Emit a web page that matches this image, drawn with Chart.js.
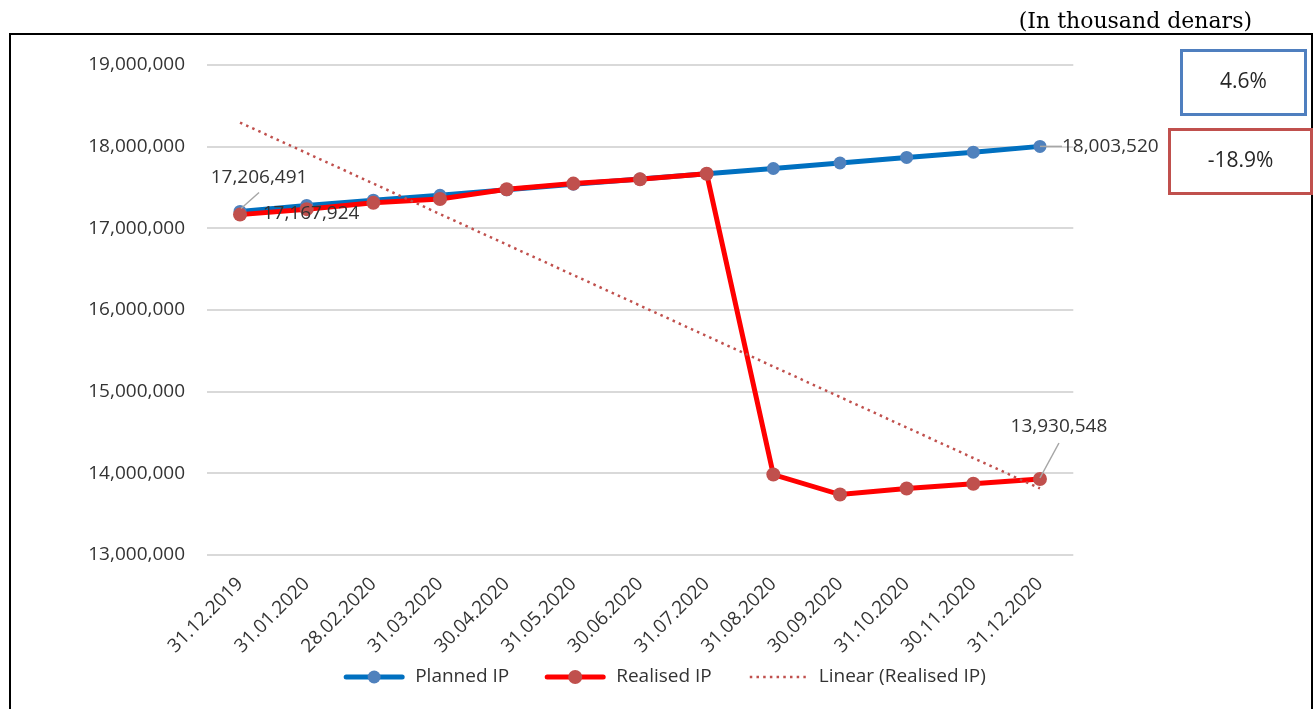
<!DOCTYPE html>
<html>
<head>
<meta charset="utf-8">
<script src="https://cdn.jsdelivr.net/npm/chart.js@4.4.1/dist/chart.umd.min.js"></script>
<style>
  html, body { margin: 0; padding: 0; background: #fff; }
  #wrap { position: relative; width: 1315px; height: 709px; overflow: hidden; }
  #frame { position: absolute; left: 9px; top: 33px; width: 1300px; height: 720px; border: 2px solid #000; }
  .box { position: absolute; box-sizing: border-box; border: 3px solid; display: flex; align-items: center;
         justify-content: center; font: 21px "Open Sans", sans-serif; color: #262626; padding-bottom: 6px; }
  canvas { position: absolute; left: 0; top: 0; }
</style>
</head>
<body>
<div id="wrap">
  <div id="frame"></div>
  <canvas id="c" width="1315" height="709"></canvas>
  <div class="box" id="boxPlanned" style="left:1180px;top:49px;width:127px;height:67px;border-color:#4f7fbf;"></div>
  <div class="box" id="boxRealised" style="left:1168px;top:128px;width:145px;height:67px;border-color:#c0504d;"></div>
</div>
<script>
// Month-end dates
const categories = ['31.12.2019', '31.01.2020', '28.02.2020', '31.03.2020', '30.04.2020', '31.05.2020',
  '30.06.2020', '31.07.2020', '31.08.2020', '30.09.2020', '31.10.2020', '30.11.2020', '31.12.2020'];

// Planned IP (thousand denars)
const plannedIP = [17206491, 17280000, 17345000, 17405000, 17472000, 17540000, 17603000,
  17668000, 17733000, 17800000, 17868000, 17932000, 18003520];

// Realised IP (thousand denars)
const realisedIP = [17167924, 17235000, 17312000, 17360000, 17478000, 17548000, 17600000,
  17668000, 13985000, 13740000, 13815000, 13872000, 13930548];

// Value axis ticks
const yTicks = [13000000, 14000000, 15000000, 16000000, 17000000, 18000000, 19000000];

// Year-on-year change shown in the side boxes
const changeLabels = ['4.6%', '-18.9%'];

const seriesNames = ['Planned IP', 'Realised IP', 'Linear (Realised IP)'];
const unitNote = '(In thousand denars)';

document.getElementById('boxPlanned').textContent = changeLabels[0];
document.getElementById('boxRealised').textContent = changeLabels[1];

// Least-squares linear trend of a series over its index
function linearTrend(vals) {
  const n = vals.length;
  let sx = 0, sy = 0, sxy = 0, sxx = 0;
  vals.forEach((v, i) => { sx += i; sy += v; sxy += i * v; sxx += i * i; });
  const b = (n * sxy - sx * sy) / (n * sxx - sx * sx);
  const a = (sy - b * sx) / n;
  return vals.map((_, i) => a + b * i);
}
const realisedTrend = linearTrend(realisedIP);

const fmt = v => Math.round(v).toLocaleString('en-US');
const TEXT = '#333333';
const FONT = '"Open Sans", sans-serif';

// Unit note above the frame, top right
const unitTitle = {
  id: 'unitTitle',
  afterDraw(chart) {
    const ctx = chart.ctx;
    ctx.save();
    ctx.font = '22px "DejaVu Serif", serif';
    ctx.fillStyle = '#000';
    ctx.textAlign = 'right';
    ctx.textBaseline = 'alphabetic';
    ctx.fillText(unitNote, 1252, 28);
    ctx.restore();
  }
};

// Value labels with leader lines at the first and last points
const valueLabels = {
  id: 'valueLabels',
  afterDatasetsDraw(chart) {
    const ctx = chart.ctx;
    const p0 = chart.getDatasetMeta(0).data;
    const r0 = chart.getDatasetMeta(1).data;
    const last = categories.length - 1;
    ctx.save();
    ctx.strokeStyle = '#a6a6a6';
    ctx.lineWidth = 1.5;
    ctx.font = '19px ' + FONT;
    ctx.fillStyle = TEXT;
    ctx.textBaseline = 'middle';

    // planned, first point
    let p = p0[0];
    ctx.beginPath(); ctx.moveTo(p.x + 1, p.y - 3); ctx.lineTo(p.x + 19, p.y - 19); ctx.stroke();
    ctx.textAlign = 'center';
    ctx.fillText(fmt(plannedIP[0]), p.x + 19, p.y - 34);

    // realised, first point
    p = r0[0];
    ctx.fillText(fmt(realisedIP[0]), p.x + 71, p.y - 1);

    // planned, last point
    p = p0[last];
    ctx.beginPath(); ctx.moveTo(p.x, p.y); ctx.lineTo(p.x + 22, p.y); ctx.stroke();
    ctx.textAlign = 'left';
    ctx.fillText(fmt(plannedIP[last]), p.x + 22, p.y);

    // realised, last point
    p = r0[last];
    ctx.beginPath(); ctx.moveTo(p.x, p.y - 1); ctx.lineTo(p.x + 19, p.y - 36); ctx.stroke();
    ctx.textAlign = 'center';
    ctx.fillText(fmt(realisedIP[last]), p.x + 19, p.y - 52);
    ctx.restore();
  }
};

// Legend row along the bottom: line swatch with marker, then the series name
const bottomLegend = {
  id: 'bottomLegend',
  afterDraw(chart) {
    const ctx = chart.ctx;
    const ds = chart.data.datasets;
    const swatch = 60, gapText = 11, gapItem = 36, y = 677;
    ctx.save();
    ctx.font = '19px ' + FONT;
    const widths = ds.map(d => ctx.measureText(d.label).width);
    const total = widths.reduce((s, w) => s + swatch + gapText + w, 0) + gapItem * (ds.length - 1);
    let x = 665 - total / 2;
    ds.forEach((d, i) => {
      ctx.save();
      ctx.strokeStyle = d.borderColor;
      ctx.lineWidth = d.borderWidth;
      ctx.setLineDash(d.borderDash || []);
      ctx.lineCap = d.borderDash ? 'butt' : 'round';
      ctx.beginPath(); ctx.moveTo(x + 2, y); ctx.lineTo(x + swatch - 2, y); ctx.stroke();
      if (d.pointRadius > 0) {
        ctx.fillStyle = d.pointBackgroundColor;
        ctx.beginPath(); ctx.arc(x + swatch / 2, y, d.pointRadius, 0, Math.PI * 2); ctx.fill();
      }
      ctx.restore();
      ctx.fillStyle = TEXT;
      ctx.textAlign = 'left';
      ctx.textBaseline = 'middle';
      ctx.fillText(d.label, x + swatch + gapText, y);
      x += swatch + gapText + widths[i] + gapItem;
    });
    ctx.restore();
  }
};

new Chart(document.getElementById('c'), {
  type: 'line',
  data: {
    labels: categories,
    datasets: [
      {
        label: seriesNames[0], data: plannedIP, order: 3,
        borderColor: '#0070c0', borderWidth: 5,
        pointRadius: 6.5, pointBackgroundColor: '#4f81bd', pointBorderColor: '#4f81bd', pointBorderWidth: 0,
        tension: 0
      },
      {
        label: seriesNames[1], data: realisedIP, order: 2,
        borderColor: '#ff0000', borderWidth: 5,
        pointRadius: 7, pointBackgroundColor: '#c0504d', pointBorderColor: '#c0504d', pointBorderWidth: 0,
        tension: 0
      },
      {
        label: seriesNames[2], data: realisedTrend, order: 1,
        borderColor: '#c0504d', borderWidth: 2.5, borderDash: [2.5, 4.2],
        pointRadius: 0, tension: 0
      }
    ]
  },
  options: {
    responsive: false,
    animation: false,
    events: [],
    layout: { padding: { top: 65, right: 241.7, bottom: 0, left: 0 } },
    plugins: { legend: { display: false }, tooltip: { enabled: false } },
    scales: {
      x: {
        offset: true,
        grid: { display: false, drawTicks: false },
        border: { display: false },
        ticks: { minRotation: 45, maxRotation: 45, autoSkip: false, padding: 18, color: TEXT,
                 font: { family: FONT, size: 19 } },
        afterFit: s => { s.height = 154; }
      },
      y: {
        min: 13000000, max: 19000000,
        afterBuildTicks: s => { s.ticks = yTicks.map(v => ({ value: v })); },
        grid: { color: '#d9d9d9', lineWidth: 2, drawTicks: false },
        border: { display: false },
        ticks: { padding: 21.7, color: TEXT, font: { family: FONT, size: 19 }, callback: v => fmt(v) },
        afterFit: s => { s.width = 206.7; }
      }
    }
  },
  plugins: [valueLabels, bottomLegend, unitTitle]
});
</script>
</body>
</html>
